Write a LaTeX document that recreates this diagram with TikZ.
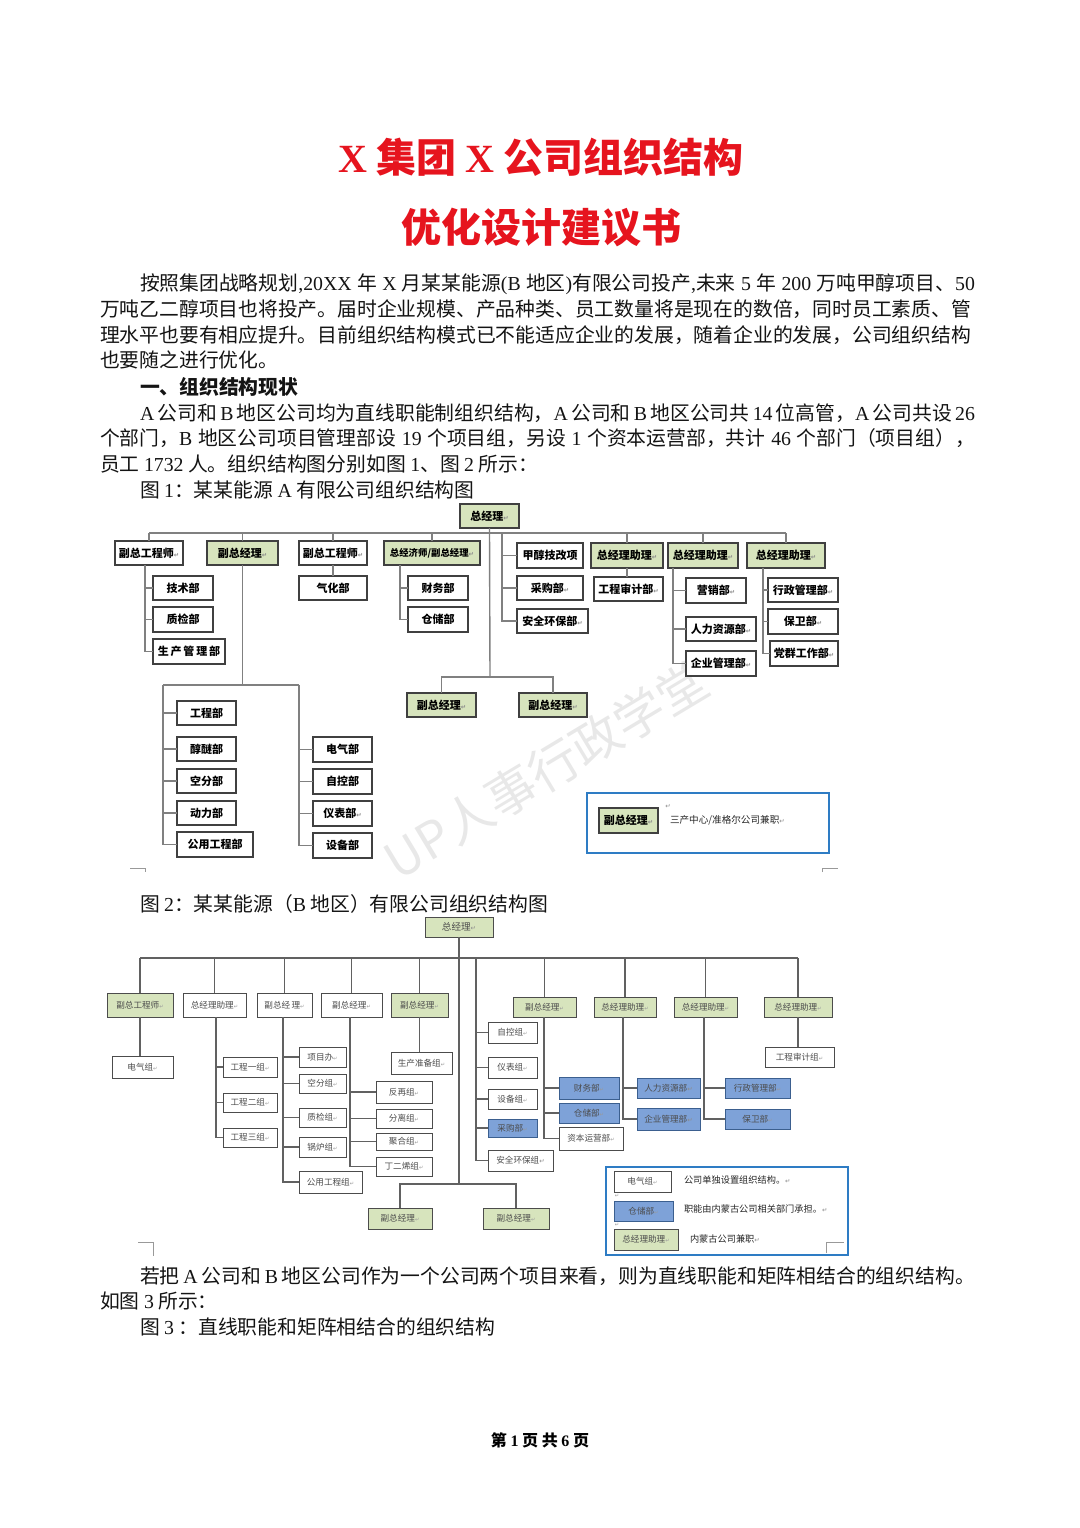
\documentclass[tikz,border=0pt]{standalone}
\usepackage{fontspec}
\setmainfont{Noto Sans CJK SC}
\newfontfamily\latf{Liberation Serif}
\newfontfamily\dejavu{DejaVu Sans}
\XeTeXlinebreaklocale "zh"
\XeTeXlinebreakskip=0pt plus 1pt
\definecolor{tred}{HTML}{E6141E}
\definecolor{ogreen}{HTML}{D7E4BD}
\definecolor{oblue}{HTML}{7EA2D8}
\definecolor{obluedark}{HTML}{3B5F8F}
\definecolor{lgblue}{HTML}{2E7CC4}
\newcommand\enx[1]{{\latf #1}}
\newcommand\rmk{{\dejavu\fontsize{3.2}{3.2}\selectfont\textcolor{black!45}{↵}}}
\newcommand\rmks{{\dejavu\fontsize{2.6}{2.6}\selectfont\textcolor{black!40}{↵}}}
\newcommand\jline[2]{\hbox to #1{#2}}
\newcommand\obox[7]{\node[#1,minimum width={(#5-#3)*0.5pt},minimum height={(#6-#4)*0.5pt}] (#2) at ({(#3+#5)/2},{(#4+#6)/2}) {#7};}
\begin{document}
\begin{tikzpicture}[x=0.5pt,y=-0.5pt,
  every node/.style={inner sep=0pt,outer sep=0pt},
  fa/.style={draw=black!75,line width=0.6pt,font=\fontsize{5.5}{6}\selectfont\bfseries,text=black},
  fw/.style={fa,fill=white},
  fg/.style={fa,fill=ogreen},
  ln1/.style={draw=black!50,line width=0.7pt},
  sa/.style={draw=black!70,line width=0.5pt,font=\fontsize{4.3}{5}\selectfont,text=black!70},
  sw/.style={sa,fill=white},
  sg/.style={sa,fill=ogreen},
  sb/.style={sa,fill=oblue,draw=obluedark},
  ln2/.style={draw=black!62,line width=0.55pt},
  lgbox/.style={draw=lgblue,line width=1pt},
  lgtext/.style={anchor=west,font=\fontsize{4.6}{5}\selectfont,text=black!85},
  body/.style={anchor=west,font=\fontsize{9.9}{12}\selectfont,text=black!92},
  cropmark/.style={draw=black!40,line width=0.4pt}]
\fill[white] (0,0) rectangle (1080,1528);
\useasboundingbox (0,0) rectangle (1080,1528);

% ---------- watermark (behind the charts) ----------
\node[rotate=31,font=\fontsize{25}{28}\selectfont,text=black,opacity=0.09] (wm) at (546,770) {UP人事行政学堂};

% ---------- title ----------
\node[text=tred,font=\fontsize{20}{24}\selectfont\bfseries] (title1) at (541,157) {\enx{X} 集团 \enx{X} 公司组织结构};
\node[text=tred,font=\fontsize{20}{24}\selectfont\bfseries] (title2) at (541,227) {优化设计建议书};

% ---------- body text ----------
\node[body] (l1) at (140,284) {\jline{417.5pt}{按照集团战略规划\enx{,20XX} 年 \enx{X} 月某某能源\enx{(B} 地区\enx{)}有限公司投产\enx{,}未来 \enx{5} 年 \enx{200} 万吨甲醇项目、\enx{50}}};
\node[body] (l2) at (100,309) {\jline{437.5pt}{万吨乙二醇项目也将投产。届时企业规模、产品种类、员工数量将是现在的数倍，同时员工素质、管}};
\node[body] (l3) at (100,335) {\jline{437.5pt}{理水平也要有相应提升。目前组织结构模式已不能适应企业的发展，随着企业的发展，公司组织结构}};
\node[body] (l4) at (100,360) {也要随之进行优化。};
\node[body,font=\fontsize{9.9}{12}\selectfont\bfseries] (l5) at (140,387) {一、组织结构现状};
\node[body] (l6) at (140,413) {\jline{417.5pt}{\enx{A} 公司和 \enx{B} 地区公司均为直线职能制组织结构，\enx{A} 公司和 \enx{B} 地区公司共 \enx{14} 位高管，\enx{A} 公司共设 \enx{26}}};
\node[body] (l7) at (100,438) {\jline{437.5pt}{个部门，\enx{B} 地区公司项目管理部设 \enx{19} 个项目组，另设 \enx{1} 个资本运营部，共计 \enx{46} 个部门（项目组），}};
\node[body] (l8) at (100,464) {员工 \enx{1732} 人。组织结构图分别如图 \enx{1}、图 \enx{2} 所示：};
\node[body] (l9) at (140,490) {图 \enx{1}：某某能源 \enx{A} 有限公司组织结构图};
\node[body] (c2) at (140,904) {图 \enx{2}：某某能源（\enx{B} 地区）有限公司组织结构图};
\node[body] (l10) at (140,1276) {\jline{417.5pt}{若把 \enx{A} 公司和 \enx{B} 地区公司作为一个公司两个项目来看，则为直线职能和矩阵相结合的组织结构。}};
\node[body] (l11) at (100,1301) {如图 \enx{3} 所示：};
\node[body] (l12) at (140,1327) {图 \enx{3} ：直线职能和矩阵相结合的组织结构};
\node[font=\fontsize{8}{10}\selectfont\bfseries] (foot) at (540,1440) {第 \enx{1} 页 共 \enx{6} 页};

% ---------- figure 1 ----------
\obox{fg}{gm}{460}{504}{519}{528}{总经理\rmk}
\obox{fw}{a1}{115}{541}{183}{565}{副总工程师\rmk}
\obox{fg}{a2}{207}{541}{278}{565}{副总经理\rmk}
\obox{fw}{a3}{299}{541}{367}{565}{副总工程师\rmk}
\obox{fg,font=\fontsize{4.7}{5}\selectfont\bfseries}{a4}{384}{541}{480}{565}{总经济师/副总经理\rmk}
\obox{fw}{a5}{517}{543}{583}{568}{甲醇技改项}
\obox{fg}{a6}{591}{543}{663}{568}{总经理助理\rmk}
\obox{fg}{a7}{668}{543}{738}{568}{总经理助理\rmk}
\obox{fg}{a8}{747}{543}{825}{568}{总经理助理\rmk}
\obox{fw}{b1}{153}{576}{213}{600}{技术部}
\obox{fw}{b2}{153}{607}{213}{632}{质检部}
\obox{fw}{b3}{153}{639}{225}{664}{生\,产\,管\,理\,部}
\obox{fw}{c1}{299}{576}{367}{600}{气化部}
\obox{fw}{d1}{408}{576}{468}{600}{财务部}
\obox{fw}{d2}{408}{607}{468}{632}{仓储部}
\obox{fw}{e2}{517}{576}{583}{600}{采购部\rmk}
\obox{fw}{e3}{517}{609}{588}{633}{安全环保部\rmk}
\obox{fw}{f1}{594}{577}{663}{601}{工程审计部\rmk}
\obox{fw}{g1}{686}{578}{746}{603}{营销部\rmk}
\obox{fw}{g2}{686}{617}{756}{641}{人力资源部\rmk}
\obox{fw}{g3}{686}{651}{756}{676}{企业管理部\rmk}
\obox{fw}{h1}{768}{578}{838}{602}{行政管理部\rmk}
\obox{fw}{h2}{768}{609}{838}{634}{保卫部\rmk}
\obox{fw}{h3}{770}{641}{838}{666}{党群工作部\rmk}
\obox{fw}{k1}{177}{701}{236}{725}{工程部}
\obox{fw}{k2}{177}{737}{236}{761}{醇醚部}
\obox{fw}{k3}{177}{769}{236}{793}{空分部}
\obox{fw}{k4}{177}{801}{236}{825}{动力部}
\obox{fw}{k5}{177}{832}{253}{857}{公用工程部}
\obox{fw}{m1}{313}{737}{372}{762}{电气部}
\obox{fw}{m2}{313}{769}{372}{794}{自控部}
\obox{fw}{m3}{313}{801}{372}{826}{仪表部\rmk}
\obox{fw}{m4}{313}{833}{372}{858}{设备部}
\obox{fg}{p1}{407}{693}{476}{717}{副总经理\rmk}
\obox{fg}{p2}{519}{693}{587}{717}{副总经理\rmk}
\obox{lgbox,fill=white}{q}{587}{793}{829}{853}{}
\obox{fg}{q1}{599}{808}{658}{833}{副总经理\rmk}
\node[lgtext,font=\fontsize{4.8}{5}\selectfont] (q2) at (670,820) {三产中心/准格尔公司兼职\rmk};
\node (q3) at (668,806) {\rmk};

\coordinate (T1L) at (149,533);
\coordinate (T1R) at (786,533);
\coordinate (J1) at (490,677);
\coordinate (B1) at (145,565);
\coordinate (B4) at (400,565);
\coordinate (B5) at (502,533);
\coordinate (B7) at (673,568);
\coordinate (B8) at (763,568);
\coordinate (LL) at (163,685);
\coordinate (LR) at (299,685);
\draw[ln1] (T1L) -- (T1R);
\foreach \n in {a1,a2,a3,a4,a6,a7,a8} \draw[ln1] (\n.north) -- (\n.north |- T1L);
\draw[ln1] (gm.south) -- (J1);
\foreach \n in {b1,b2,b3} \draw[ln1] (B1) |- (\n.west);
\draw[ln1] (a3.south) -- (c1.north);
\foreach \n in {d1,d2} \draw[ln1] (B4) |- (\n.west);
\foreach \n in {a5,e2,e3} \draw[ln1] (B5) |- (\n.west);
\draw[ln1] (a6.south) -- (a6.south |- f1.north);
\foreach \n in {g1,g2,g3} \draw[ln1] (B7) |- (\n.west);
\foreach \n in {h1,h2,h3} \draw[ln1] (B8) |- (\n.west);
\draw[ln1] (a2.south) -- (a2.south |- LL);
\draw[ln1] (LL) -- (LR);
\foreach \n in {k1,k2,k3,k4,k5} \draw[ln1] (LL) |- (\n.west);
\foreach \n in {m1,m2,m3,m4} \draw[ln1] (LR) |- (\n.west);
\draw[ln1] (p1.north) |- (J1) -| (p2.north);
\draw[cropmark] (130,868) -- (145,868) -- (145,872);
\draw[cropmark] (822,872) -- (822,868) -- (838,868);

% ---------- figure 2 ----------
\obox{sg,font=\fontsize{4.8}{5}\selectfont}{GM}{425}{917}{493}{937}{总经理\rmk}
\obox{sg}{t1}{107}{993}{173}{1017}{副总工程师\rmks}
\obox{sw}{t2}{183}{993}{246}{1017}{总经理助理\rmks}
\obox{sw}{t3}{257}{993}{312}{1017}{副总经\,理\rmks}
\obox{sw}{t4}{321}{993}{382}{1017}{副总经理\rmks}
\obox{sg}{t5}{391}{993}{448}{1017}{副总经理\rmks}
\obox{sg}{t6}{513}{997}{576}{1017}{副总经理\rmks}
\obox{sg}{t7}{594}{997}{656}{1017}{总经理助理\rmks}
\obox{sg}{t8}{674}{997}{737}{1017}{总经理助理\rmks}
\obox{sg}{t9}{764}{997}{832}{1017}{总经理助理\rmks}
\obox{sw}{u1}{112}{1056}{173}{1078}{电气组\rmks}
\obox{sw}{v1}{223}{1057}{277}{1077}{工程一组\rmks}
\obox{sw}{v2}{223}{1093}{277}{1112}{工程二组\rmks}
\obox{sw}{v3}{223}{1128}{277}{1147}{工程三组\rmks}
\obox{sw}{x1}{299}{1047}{346}{1067}{项目办\rmks}
\obox{sw}{x2}{299}{1074}{346}{1093}{空分组\rmks}
\obox{sw}{x3}{299}{1108}{346}{1127}{质检组\rmks}
\obox{sw}{x4}{299}{1137}{346}{1157}{锅炉组\rmks}
\obox{sw}{x5}{299}{1171}{362}{1193}{公用工程组\rmks}
\obox{sw}{y1}{376}{1081}{432}{1103}{反再组\rmks}
\obox{sw}{y2}{376}{1109}{432}{1128}{分离组\rmks}
\obox{sw}{y3}{376}{1133}{432}{1150}{聚合组\rmks}
\obox{sw}{y4}{376}{1157}{432}{1176}{丁二烯组\rmks}
\obox{sw}{z1}{391}{1052}{452}{1074}{生产准备组\rmks}
\obox{sw}{r1}{488}{1022}{537}{1043}{自控组\rmks}
\obox{sw}{r2}{488}{1057}{537}{1078}{仪表组\rmks}
\obox{sw}{r3}{488}{1089}{537}{1109}{设备组\rmks}
\obox{sb}{r4}{488}{1119}{537}{1137}{采购部\rmks}
\obox{sw}{r5}{488}{1150}{553}{1171}{安全环保组\rmk}
\obox{sb}{s1}{559}{1077}{619}{1099}{财务部\rmks}
\obox{sb}{s2}{559}{1103}{619}{1123}{仓储部\rmks}
\obox{sw}{s3}{559}{1127}{623}{1150}{资本运营部\rmks}
\obox{sb}{o1}{637}{1078}{700}{1098}{人力资源部\rmk}
\obox{sb}{o2}{637}{1108}{700}{1130}{企业管理部\rmk}
\obox{sb}{n1}{725}{1078}{790}{1098}{行政管理部\rmks}
\obox{sb}{n2}{725}{1109}{790}{1129}{保卫部\rmks}
\obox{sw}{w1}{765}{1047}{834}{1067}{工程审计组\rmks}
\obox{sg}{pp1}{368}{1208}{432}{1229}{副总经理\rmks}
\obox{sg}{pp2}{483}{1208}{549}{1229}{副总经理\rmks}

\coordinate (T2L) at (140,958);
\coordinate (T2R) at (798,958);
\coordinate (J2) at (459,1184);
\coordinate (C2b) at (216,1017);
\coordinate (C2c) at (283,1017);
\coordinate (C2d) at (350,1017);
\coordinate (C2r) at (476,958);
\coordinate (C2f) at (544,1017);
\coordinate (C2g) at (623,1017);
\coordinate (C2h) at (704,1017);
\draw[ln2] (T2L) -- (T2R);
\foreach \n in {t1,t2,t3,t4,t5,t6,t7,t8,t9} \draw[ln2] (\n.north) -- (\n.north |- T2L);
\draw[ln2] (GM.south) -- (J2);
\draw[ln2] (pp1.north) |- (J2) -| (pp2.north);
\draw[ln2] (t1.south) -- (t1.south |- u1.north);
\foreach \n in {v1,v2,v3} \draw[ln2] (C2b) |- (\n.west);
\foreach \n in {x1,x2,x3,x4,x5} \draw[ln2] (C2c) |- (\n.west);
\foreach \n in {y1,y2,y3,y4} \draw[ln2] (C2d) |- (\n.west);
\draw[ln2] (t5.south) -- (t5.south |- z1.north);
\foreach \n in {r1,r2,r3,r4,r5} \draw[ln2] (C2r) |- (\n.west);
\foreach \n in {s1,s2,s3} \draw[ln2] (C2f) |- (\n.west);
\foreach \n in {o1,o2} \draw[ln2] (C2g) |- (\n.west);
\foreach \n in {n1,n2} \draw[ln2] (C2h) |- (\n.west);
\draw[ln2] (t9.south) -- (t9.south |- w1.north);

\obox{lgbox}{lg}{606}{1167}{848}{1255}{}
\obox{sw}{lg1}{614}{1171}{671}{1192}{电气组\rmks}
\obox{sb}{lg2}{614}{1201}{673}{1221}{仓储部\rmks}
\obox{sg}{lg3}{614}{1229}{678}{1250}{总经理助理\rmks}
\node[lgtext] (lt1) at (684,1180) {公司单独设置组织结构。\rmk};
\node[lgtext] (lt2) at (684,1209) {职能由内蒙古公司相关部门承担。\rmk};
\node[lgtext] (lt3) at (690,1239) {内蒙古公司兼职\rmk};
\node (lm1) at (617,1196) {\rmks};
\node (lm2) at (617,1225) {\rmks};
\draw[cropmark] (138,1242) -- (153,1242) -- (153,1256);
\draw[cropmark] (826,1253) -- (826,1242) -- (844,1242);
\end{tikzpicture}
\end{document}
